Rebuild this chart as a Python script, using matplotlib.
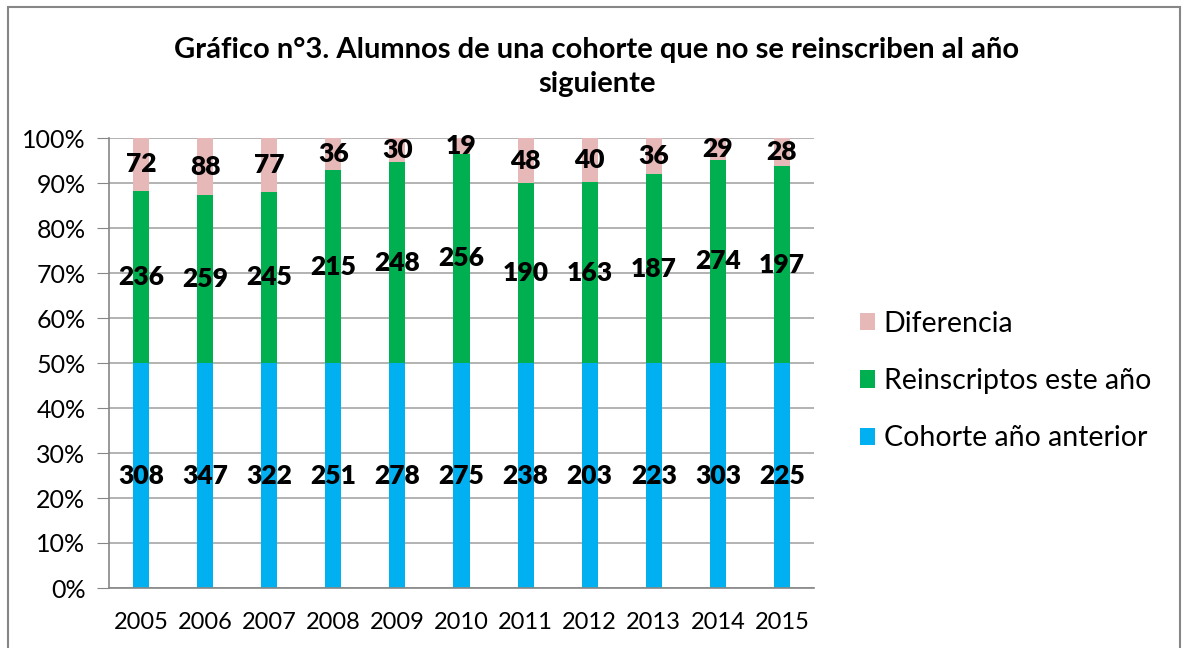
import matplotlib.pyplot as plt
import numpy as np
from matplotlib.patches import Rectangle

plt.rcParams['font.family'] = ['Lato', 'DejaVu Sans']

# Data
years = ['2005', '2006', '2007', '2008', '2009', '2010',
         '2011', '2012', '2013', '2014', '2015']
cohorte = [308, 347, 322, 251, 278, 275, 238, 203, 223, 303, 225]
reinscriptos = [236, 259, 245, 215, 248, 256, 190, 163, 187, 274, 197]
diferencia = [72, 88, 77, 36, 30, 19, 48, 40, 36, 29, 28]

series = [
    ('Cohorte año anterior', cohorte, '#00B0F0'),
    ('Reinscriptos este año', reinscriptos, '#00B050'),
    ('Diferencia', diferencia, '#E6B9B8'),
]

W, H = 1184, 648
fig = plt.figure(figsize=(W / 100, H / 100), dpi=100)
ax = fig.add_axes([109 / W, 1 - 588 / H, (814 - 109) / W, (588 - 138) / H])

x = np.arange(len(years))
total = np.array(cohorte) + np.array(reinscriptos) + np.array(diferencia)
bottom = np.zeros(len(years))
handles = []
for name, vals, color in series:
    pct = np.array(vals) / total * 100
    bars = ax.bar(x, pct, width=0.25, bottom=bottom, color=color, label=name, zorder=2)
    ax.bar_label(bars, labels=[str(v) for v in vals], label_type='center',
                 fontsize=19, fontweight='heavy', color='black', zorder=3)
    handles.append(bars)
    bottom += pct

ax.set_xlim(-0.5, len(years) - 0.5)
ax.set_ylim(0, 100)
ax.set_yticks(np.arange(0, 101, 10))
ax.set_yticklabels([f'{v}%' for v in range(0, 101, 10)])
ax.set_xticks(x)
ax.set_xticklabels(years)
ax.tick_params(axis='y', labelsize=18, length=9, color='#868686', pad=8)
ax.tick_params(axis='x', labelsize=17, length=0, pad=17)
ax.yaxis.grid(True, color='#a6a6a6', linewidth=1.2, zorder=0)
ax.set_axisbelow(True)
for side in ['top', 'right']:
    ax.spines[side].set_visible(False)
for side in ['left', 'bottom']:
    ax.spines[side].set_color('#868686')
    ax.spines[side].set_linewidth(1.2)

# Title
fig.text(597 / W, 1 - 67 / H,
         'Gráfico n°3. Alumnos de una cohorte que no se reinscriben al año\nsiguiente',
         ha='center', va='center', fontsize=21, fontweight='bold', linespacing=1.35)

# Legend (reverse order)
leg = fig.legend(handles[::-1], [s[0] for s in series[::-1]],
                 loc='center left', bbox_to_anchor=(834 / W, 1 - 381 / H),
                 frameon=False, fontsize=20.5, handlelength=0.55, handleheight=0.55,
                 handletextpad=0.3, labelspacing=1.1)

# Chart border
fig.patches.append(Rectangle((8 / W, -0.01), (1180 - 8) / W, 1 - 7 / H + 0.01,
                             transform=fig.transFigure, fill=False,
                             edgecolor='#868686', linewidth=1.5))

fig.savefig('out.png', dpi=100)
